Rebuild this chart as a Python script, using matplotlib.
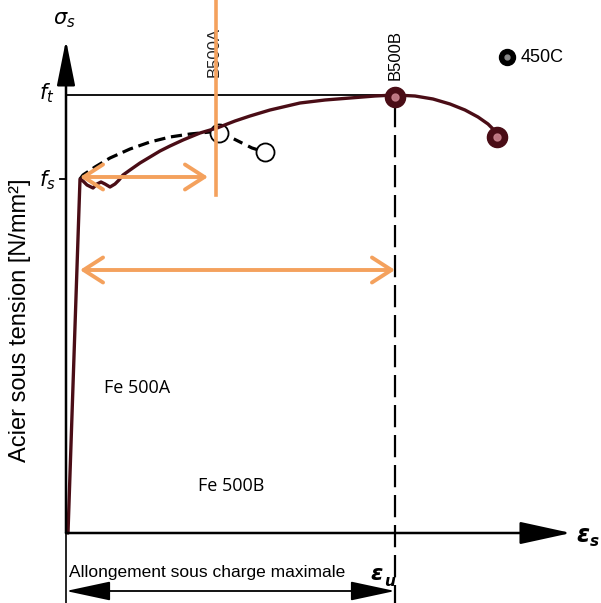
import matplotlib
matplotlib.use('Agg')
import matplotlib.pyplot as plt

# ---- schematic data (strain on x, stress on y, origin at axis crossing) ----
f_s = 354          # yield strength
f_t = 438          # tensile strength
eps_u = 329        # elongation at maximum load (B500B)
eps_A = 150        # position of B500A marker line

strain_500B = [2, 14, 17, 21, 27, 31, 35, 39, 44, 49, 53, 57, 64, 74, 84, 94,
               104, 117, 134, 151, 169, 184, 204, 234, 259, 284, 309, 329, 349,
               367, 384, 399, 412, 422, 428, 431]
stress_500B = [0, 354, 352, 348, 345, 349, 351, 349, 346, 349, 353, 358, 363,
               370, 376, 382, 387, 393, 400, 405, 412, 417, 423, 430, 433, 435,
               437, 438, 437, 434, 429, 423, 416, 409, 403, 396]

strain_500A = [14, 17, 29, 44, 64, 84, 104, 124, 144, 153]
stress_500A = [354, 358, 366, 375, 384, 391, 396, 399, 401, 400]
strain_500A_end = [153, 162, 174, 186, 199]
stress_500A_end = [400, 397, 391, 385, 381]

peak_B = (329, 436)
rupture_B = (431, 396)
legend_450C = (441, 476)

arrow1_y, arrow1_x = 356, (14, 142)
arrow2_y, arrow2_x = 263, (14, 329)

MAROON = '#4a0d16'
PINK = '#c9818c'
ORANGE = '#f4a15d'

plt.rcParams['mathtext.fontset'] = 'dejavusans'

fig = plt.figure(figsize=(6.01, 6.03), dpi=100)
ax = fig.add_axes([0, 0, 1, 1])
ax.set_xlim(-66, 535)
ax.set_ylim(-70, 533)
ax.axis('off')

# axes with arrows
ax.annotate('', xy=(0, 493), xytext=(0, 0),
            arrowprops=dict(arrowstyle='-|>,head_length=1.4,head_width=0.28',
                            mutation_scale=20, lw=1.8, color='black',
                            shrinkA=0, shrinkB=0))
ax.annotate('', xy=(505, 0), xytext=(0, 0),
            arrowprops=dict(arrowstyle='-|>,head_length=1.6,head_width=0.35',
                            mutation_scale=20, lw=1.8, color='black',
                            shrinkA=0, shrinkB=0))
ax.plot([0, 0], [0, -70], color='black', lw=1.2)

# f_t line, f_s tick
ax.plot([0, eps_u], [f_t, f_t], color='black', lw=1.3)
ax.plot([-6, 0], [f_s, f_s], color='black', lw=1.3)

# vertical dashed line at eps_u
ax.plot([eps_u, eps_u], [f_t - 10, -70], color='black', lw=1.6,
        dashes=(10, 3.5))

# Fe 500A dashed curve with open circles
ax.plot(strain_500A, stress_500A, color='black', lw=2.3, dashes=(3.5, 1.8))
ax.plot(strain_500A_end, stress_500A_end, color='black', lw=2.3, dashes=(3, 2))
ax.plot([strain_500A_end[0]], [stress_500A_end[0]], 'o', ms=13, mfc='white',
        mec='black', mew=1.3)
ax.plot([strain_500A_end[-1]], [stress_500A_end[-1]], 'o', ms=13, mfc='white',
        mec='black', mew=1.3)

# Fe 500B curve
ax.plot(strain_500B, stress_500B, color=MAROON, lw=2.4, solid_joinstyle='round',
        solid_capstyle='round')
for pt in (peak_B, rupture_B):
    ax.plot([pt[0]], [pt[1]], 'o', ms=14.5, mfc=MAROON, mec=MAROON)
    ax.plot([pt[0]], [pt[1]], 'o', ms=5, mfc=PINK, mec=PINK, alpha=0.9)

# 450C legend marker
ax.plot([legend_450C[0]], [legend_450C[1]], 'o', ms=11.5, mfc='black', mec='black')
ax.plot([legend_450C[0]], [legend_450C[1]], 'o', ms=3.5, mfc='#888888', mec='#888888')
ax.text(legend_450C[0] + 14, legend_450C[1], '450C', fontsize=13,
        family='Liberation Sans', va='center', ha='left')

# B500A label (under the orange line)
ax.text(eps_A - 2, 481, 'B500A', rotation=90, fontsize=12, family='Liberation Sans',
        ha='center', va='center', color='#222222', zorder=1)

# orange annotations
ax.plot([eps_A, eps_A], [533, 338], color=ORANGE, lw=2.6, zorder=3)
for y, (x0, x1) in ((arrow1_y, arrow1_x), (arrow2_y, arrow2_x)):
    ax.annotate('', xy=(x1, y), xytext=(x0, y),
                arrowprops=dict(arrowstyle='<->,head_length=0.7,head_width=0.45',
                                mutation_scale=20, lw=2.8, color=ORANGE,
                                shrinkA=0, shrinkB=0))

# dimension arrow
ax.annotate('', xy=(eps_u, -58), xytext=(0, -58),
            arrowprops=dict(arrowstyle='<|-|>,head_length=1.4,head_width=0.3',
                            mutation_scale=20, lw=1.3, color='black',
                            shrinkA=0, shrinkB=0))
ax.text(3, -39, 'Allongement sous charge maximale', fontsize=12.5,
        family='Liberation Sans', ha='left', va='center')
ax.text(304, -41, 'ε', fontsize=16, ha='left', va='center',
        style='italic', fontweight='bold', family='DejaVu Sans')
ax.text(318, -48, 'u', fontsize=11, ha='left', va='center',
        style='italic', fontweight='bold', family='DejaVu Sans')

# labels
ax.text(510, -2, 'ε', fontsize=17, ha='left', va='center',
        style='italic', fontweight='bold', family='DejaVu Sans')
ax.text(524, -9, 's', fontsize=11, ha='left', va='center',
        style='italic', fontweight='bold', family='DejaVu Sans')
ax.text(-2, 513, r'$\sigma_s$', fontsize=15, ha='center', va='center')
ax.text(-19, 440, r'$f_t$', fontsize=15, ha='center', va='center')
ax.text(-19, 353, r'$f_s$', fontsize=15, ha='center', va='center')

ax.text(-46, 213, 'Acier sous tension [N/mm²]', rotation=90, fontsize=17,
        family='Liberation Sans', ha='center', va='center')
ax.text(71, 145, 'Fe 500A', fontsize=13, family='Open Sans',
        ha='center', va='center')
ax.text(165, 47, 'Fe 500B', fontsize=13, family='Open Sans',
        ha='center', va='center')
ax.text(eps_u, 478, 'B500B', rotation=90, fontsize=12, family='Liberation Sans',
        ha='center', va='center')

fig.savefig('out.png', dpi=100)
